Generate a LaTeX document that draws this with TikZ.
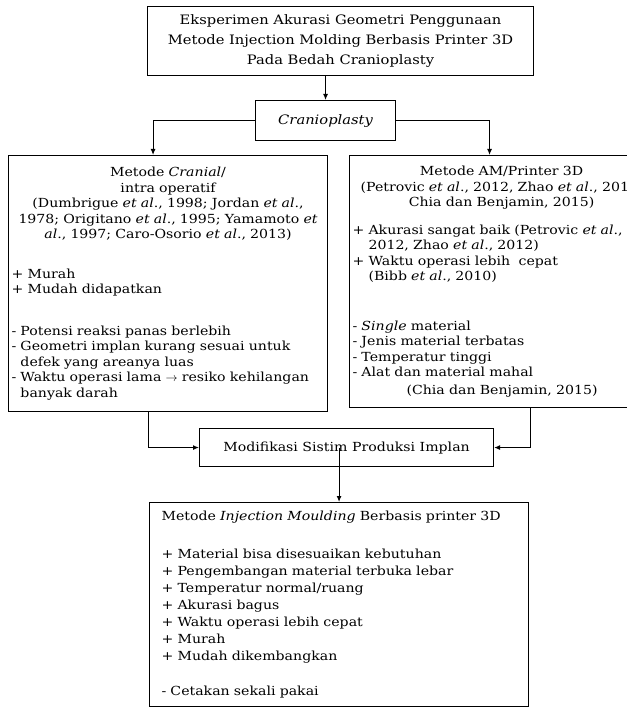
\documentclass[tikz,border=0pt]{standalone}
\usepackage{fontspec}
\setmainfont[FakeStretch=1.13]{DejaVu Serif}
\usetikzlibrary{arrows.meta}

\begin{document}
\begin{tikzpicture}[x=1pt,y=-1pt,>={Latex[length=6pt,width=5pt]}]
    \tikzstyle{box} = [draw,line width=1.1pt,anchor=north west,inner xsep=3pt,inner ysep=0pt,font=\fontsize{12.5}{15.5}\selectfont]
    \useasboundingbox (0,0) rectangle (626,708);
    \node [box,align=center,minimum width=386pt,minimum height=69pt,font=\fontsize{13}{20}\selectfont] (judul) at (147,6)
      {Eksperimen Akurasi Geometri Penggunaan\\ Metode Injection Molding Berbasis Printer 3D\\ Pada Bedah Cranioplasty};
    \node [box,minimum width=140pt,minimum height=40pt,font=\fontsize{13}{16}\selectfont\itshape] (cran) at (255,100) {Cranioplasty};
    \node [box,align=left,text width=313pt,minimum height=256pt] (kiri) at (8,155)
      {{\centering Metode \textit{Cranial}/\\ intra operatif\\
        (Dumbrigue \textit{et al}., 1998; Jordan \textit{et al}.,\\
        1978; Origitano \textit{et al}., 1995; Yamamoto \textit{et}\\
        \textit{al}., 1997; Caro-Osorio \textit{et al}., 2013)\par}
       \vspace{24pt}
       + Murah\\ + Mudah didapatkan\\[26pt]
       - Potensi reaksi panas berlebih\\
       - Geometri implan kurang sesuai untuk\\ \phantom{- }defek yang areanya luas\\
       - Waktu operasi lama $\rightarrow$ resiko kehilangan\\ \phantom{- }banyak darah\\[10pt]};
    \node [box,align=left,text width=298pt,minimum height=252pt] (kanan) at (349,155)
      {{\centering Metode AM/Printer 3D\\
        (Petrovic \textit{et al}., 2012, Zhao \textit{et al}., 2012,\\
        Chia dan Benjamin, 2015)\par}
       \vspace{12pt}
       + Akurasi sangat baik (Petrovic \textit{et al}.,\\ \phantom{+ }2012, Zhao \textit{et al}., 2012)\\
       + Waktu operasi lebih\ \ cepat\\ \phantom{+ }(Bibb \textit{et al}., 2010)\\[34pt]
       - \textit{Single} material\\ - Jenis material terbatas\\ - Temperatur tinggi\\
       - Alat dan material mahal\\[2pt] \hspace*{54pt}(Chia dan Benjamin, 2015)\\[2pt]};
    \node [box,minimum width=294pt,minimum height=38pt] (mod) at (199,428) {Modifikasi Sistim Produksi Implan};
    \node [box,align=left,inner xsep=12pt,text width=355pt,minimum height=204pt,font=\fontsize{12.5}{17}\selectfont] (bawah) at (149,502)
      {Metode \textit{Injection Moulding} Berbasis printer 3D\\[21pt]
       + Material bisa disesuaikan kebutuhan\\ + Pengembangan material terbuka lebar\\
       + Temperatur normal/ruang\\ + Akurasi bagus\\ + Waktu operasi lebih cepat\\
       + Murah\\ + Mudah dikembangkan\\[18pt]
       - Cetakan sekali pakai};
    \draw [->,line width=1.1pt] (cran.north |- judul.south) -- (cran.north);
    \draw [->,line width=1.1pt] (cran.west) -| ([xshift=-15pt]kiri.north);
    \draw [->,line width=1.1pt] (cran.east) -| ([xshift=-12pt]kanan.north);
    \draw [->,line width=1.1pt] ([xshift=-20pt]kiri.south) |- (mod.west);
    \draw [->,line width=1.1pt] ([xshift=29pt]kanan.south) |- (mod.east);
    \draw [->,line width=1.1pt] (bawah.north |- mod.center) -- (bawah.north);
\end{tikzpicture}
\end{document}
